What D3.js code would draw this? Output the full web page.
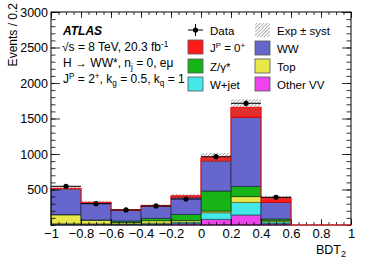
<!DOCTYPE html>
<html><head><meta charset="utf-8">
<script src="https://cdn.jsdelivr.net/npm/d3@7"></script>
<style>
body{margin:0;background:#fff;}
svg{display:block;font-family:"Liberation Sans",Arial,Helvetica,sans-serif;}
</style></head>
<body><svg id="c" width="366" height="262"></svg>
<script>
// ---- data ----
const binLow = [-1, -0.8, -0.6, -0.4, -0.2, 0, 0.2, 0.4, 0.6, 0.8];
const binWidth = 0.2;
const otherVV = [10, 8, 8, 10, 24, 80, 141, 20, 0, 0];
const wjet    = [8, 8, 8, 15, 18, 93, 178, 25, 0, 0];
const topQ    = [125, 50, 20, 35, 24, 24, 80, 15, 0, 0];
const zgamma  = [5, 5, 20, 35, 84, 282, 146, 25, 0, 0];
const ww      = [360, 240, 150, 170, 240, 422, 972, 234, 0, 0];
const sig0p   = [8, 8, 6, 8, 20, 47, 140, 66, 0, 0];
const dataObs = [545, 300, 212, 268, 366, 962, 1714, 390, null, null];
const systFrac = 0.07;
const xTicks = [-1, -0.8, -0.6, -0.4, -0.2, 0, 0.2, 0.4, 0.6, 0.8, 1];
const yTicks = [500, 1000, 1500, 2000, 2500, 3000];

const layers = [
  {name:"Other VV", vals:otherVV, fill:"#ee44ee", stroke:"#6a1a6a"},
  {name:"W+jet",    vals:wjet,    fill:"#44e8e8", stroke:"#1a6a6a"},
  {name:"Top",      vals:topQ,    fill:"#e8e84a", stroke:"#6a6a1a"},
  {name:"Z",        vals:zgamma,  fill:"#16b416", stroke:"#0a4a0a"},
  {name:"WW",       vals:ww,      fill:"#6666cc", stroke:"#2a2a55"},
  {name:"0+",       vals:sig0p,   fill:"#ff1a1a", stroke:"#cc0000"}
];

const svg = d3.select("#c");
const L = 51, R = 351, T = 12, B = 225;
const x = d3.scaleLinear().domain([-1, 1]).range([L, R]);
const y = d3.scaleLinear().domain([0, 3000]).range([B, T]);

// defs: hatch
const defs = svg.append("defs");
const pat = defs.append("pattern").attr("id","hatch").attr("patternUnits","userSpaceOnUse")
  .attr("width",3.5).attr("height",3.5);
pat.append("path").attr("d","M-1,1 l2,-2 M0,3.5 l3.5,-3.5 M2.5,4.5 l2,-2")
  .attr("stroke","#777").attr("stroke-width",0.8);

// stacked bars
const cum = binLow.map(() => 0);
const g = svg.append("g");
layers.forEach(ly => {
  binLow.forEach((b, i) => {
    const v = ly.vals[i];
    if (v <= 0) return;
    const y0 = cum[i], y1 = cum[i] + v;
    g.append("rect")
      .attr("x", x(b)).attr("width", x(b + binWidth) - x(b))
      .attr("y", y(y1)).attr("height", y(y0) - y(y1))
      .attr("fill", ly.fill).attr("stroke", ly.stroke).attr("stroke-width", 0.8);
    cum[i] = y1;
  });
});

// syst band
binLow.forEach((b, i) => {
  const t = cum[i];
  if (t <= 0) return;
  g.append("rect")
    .attr("x", x(b)).attr("width", x(b + binWidth) - x(b))
    .attr("y", y(t * (1 + systFrac))).attr("height", y(t * (1 - systFrac)) - y(t * (1 + systFrac)))
    .attr("fill", "url(#hatch)");
});

// frame and axes
const frame = svg.append("g");
frame.append("rect").attr("x", L).attr("y", T).attr("width", R - L).attr("height", B - T)
  .attr("fill", "none").attr("stroke", "#000").attr("stroke-width", 1);

const xMinor = d3.range(-1, 1.0001, 0.05).map(v => +v.toFixed(2));
const yMinor = d3.range(0, 3001, 100);
function noDomain(sel){ sel.select(".domain").remove(); }

svg.append("g").attr("transform", `translate(0,${B})`)
  .call(d3.axisBottom(x).tickValues(xMinor).tickSize(-3).tickFormat("")).call(noDomain);
svg.append("g").attr("transform", `translate(0,${T})`)
  .call(d3.axisTop(x).tickValues(xMinor).tickSize(-3).tickFormat("")).call(noDomain);
svg.append("g").attr("transform", `translate(0,${T})`)
  .call(d3.axisTop(x).tickValues(xTicks).tickSize(-6).tickFormat("")).call(noDomain);
const xa = svg.append("g").attr("transform", `translate(0,${B})`)
  .call(d3.axisBottom(x).tickValues(xTicks).tickSize(-6).tickPadding(4)
    .tickFormat(d => d === 0 ? "0" : (d < 0 ? "\u2212" : "") + String(Math.abs(d))))
  .call(noDomain);
xa.selectAll("text").attr("font-size", 13).attr("fill", "#000").attr("font-family", "Liberation Sans, Arial, sans-serif");

svg.append("g").attr("transform", `translate(${L},0)`)
  .call(d3.axisLeft(y).tickValues(yMinor).tickSize(-4.5).tickFormat("")).call(noDomain);
svg.append("g").attr("transform", `translate(${R},0)`)
  .call(d3.axisRight(y).tickValues(yMinor).tickSize(-4.5).tickFormat("")).call(noDomain);
svg.append("g").attr("transform", `translate(${R},0)`)
  .call(d3.axisRight(y).tickValues(yTicks).tickSize(-9).tickFormat("")).call(noDomain);
const ya = svg.append("g").attr("transform", `translate(${L},0)`)
  .call(d3.axisLeft(y).tickValues(yTicks).tickSize(-9).tickPadding(3).tickFormat(d3.format("d")))
  .call(noDomain);
ya.selectAll("text").attr("font-size", 12.5).attr("fill", "#000").attr("font-family", "Liberation Sans, Arial, sans-serif");
svg.selectAll(".tick line").attr("stroke", "#000").attr("stroke-width", 0.8);

// total outline (red) incl. zero bins
const stepPts = [];
binLow.forEach((b, i) => { stepPts.push([x(b), y(cum[i])]); stepPts.push([x(b + binWidth), y(cum[i])]); });
svg.append("path").attr("d", d3.line()(stepPts)).attr("fill", "none")
  .attr("stroke", "#ff1a1a").attr("stroke-width", 1);

// data points
const dg = svg.append("g");
binLow.forEach((b, i) => {
  const d = dataObs[i];
  if (d == null) return;
  const cx = x(b + binWidth / 2), e = Math.sqrt(d);
  dg.append("line").attr("x1", x(b)).attr("x2", x(b + binWidth)).attr("y1", y(d)).attr("y2", y(d))
    .attr("stroke", "#000").attr("stroke-width", 1);
  dg.append("line").attr("x1", cx).attr("x2", cx).attr("y1", y(d - e)).attr("y2", y(d + e))
    .attr("stroke", "#000").attr("stroke-width", 1);
  dg.append("circle").attr("cx", cx).attr("cy", y(d)).attr("r", 2.6).attr("fill", "#000");
});

// axis titles
svg.append("text").attr("transform", "translate(17,3) rotate(-90)").attr("text-anchor", "end")
  .attr("font-size", 12).text("Events / 0.2");
const xt = svg.append("text").attr("x", 346).attr("y", 254).attr("text-anchor", "end").attr("font-size", 12.5);
xt.append("tspan").text("BDT");
xt.append("tspan").attr("font-size", 9).attr("dy", 3).text("2");

// ATLAS labels
svg.append("text").attr("x", 63).attr("y", 35).attr("font-size", 12).attr("font-weight", "bold")
  .attr("font-style", "italic").text("ATLAS");
function rich(xp, yp, parts, fs) {
  const t = svg.append("text").attr("x", xp).attr("y", yp).attr("font-size", fs || 12);
  let cur = 0;
  parts.forEach(p => {
    const s = t.append("tspan").text(p[0]);
    const target = p[1] === "sup" ? -4 : p[1] === "sub" ? 3 : 0;
    const dy = target - cur;
    if (dy !== 0) s.attr("dy", dy);
    if (p[1]) s.attr("font-size", (fs || 12) * 0.68);
    cur = target;
  });
  return t;
}
rich(62, 51, [["\u221As = 8 TeV, 20.3 fb"], ["-1", "sup"]]);
rich(63, 67, [["H \u2192 WW*, n"], ["j", "sub"], [" = 0, e\u03BC"]]);
rich(63, 83, [["J"], ["P", "sup"], [" = 2"], ["+", "sup"], [", k"], ["g", "sub"], [" = 0.5, k"], ["q", "sub"], [" = 1"]]);

// legend
const lg = svg.append("g");
lg.append("line").attr("x1", 188).attr("x2", 203).attr("y1", 30).attr("y2", 30).attr("stroke", "#000");
lg.append("line").attr("x1", 195.5).attr("x2", 195.5).attr("y1", 24).attr("y2", 36).attr("stroke", "#000");
lg.append("circle").attr("cx", 195.5).attr("cy", 30).attr("r", 2.6).attr("fill", "#000");
rich(210, 34.5, [["Data"]], 11.5);
const legBoxes = [
  {x:188, y:47, fill:"#ff1a1a", stroke:"#555", label:[["J"],["P","sup"],[" = 0"],["+","sup"]]},
  {x:188, y:66, fill:"#16b416", stroke:"#555", label:[["Z/\u03B3*"]]},
  {x:188, y:84, fill:"#44e8e8", stroke:"#555", label:[["W+jet"]]},
  {x:255, y:30, fill:"url(#hatch)", stroke:"none", label:[["Exp \u00B1 syst"]]},
  {x:255, y:48, fill:"#6666cc", stroke:"#555", label:[["WW"]]},
  {x:255, y:66, fill:"#e8e84a", stroke:"#555", label:[["Top"]]},
  {x:255, y:84, fill:"#ee44ee", stroke:"#555", label:[["Other VV"]]}
];
legBoxes.forEach(b => {
  lg.append("rect").attr("x", b.x).attr("y", b.y - 7).attr("width", 15).attr("height", 14)
    .attr("fill", b.fill).attr("stroke", b.stroke).attr("stroke-width", 0.8);
  rich(b.x + 22, b.y + 4.5, b.label, 11.5);
});
</script></body></html>
